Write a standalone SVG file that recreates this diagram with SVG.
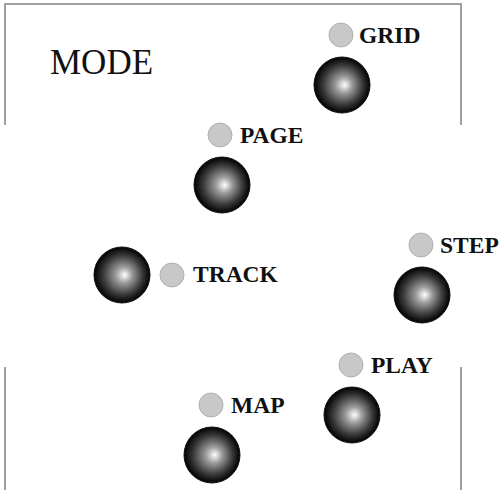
<svg xmlns="http://www.w3.org/2000/svg" width="500" height="490" viewBox="0 0 500 490">
<defs>
<radialGradient id="ball" cx="50%" cy="50%" r="50%" fx="55%" fy="50%">
<stop offset="0" stop-color="#ffffff"/>
<stop offset="0.3" stop-color="#999999"/>
<stop offset="0.7" stop-color="#3a3a3a"/>
<stop offset="1" stop-color="#000000"/>
</radialGradient>
<style>
.frame{fill:none;stroke:#a0a0a0;stroke-width:2}
.ball{fill:url(#ball);stroke:#111;stroke-width:1}
.dot{fill:#c8c8c8;stroke:#b0b0b0;stroke-width:1}
.lbl{font-family:"Liberation Serif","Times New Roman",serif;font-weight:bold;font-size:23.5px;fill:#111}
.title{font-family:"Liberation Serif","Times New Roman",serif;font-size:35px;fill:#111}
</style>
</defs>
<g id="frame">
<path class="frame" d="M5,125 V4 H461 V125"/>
<path class="frame" d="M5,367 V490"/>
<path class="frame" d="M461,367 V490"/>
<text class="title" x="50" y="74">MODE</text>
</g>
<g id="connectors"></g>
<g id="grid">
<circle class="dot" cx="341" cy="35" r="12"/>
<text class="lbl" x="359" y="43">GRID</text>
<circle class="ball" cx="342" cy="85" r="28"/>
</g>
<g id="page">
<circle class="dot" cx="220" cy="135" r="12"/>
<text class="lbl" x="240" y="143">PAGE</text>
<circle class="ball" cx="222" cy="185" r="28"/>
</g>
<g id="track">
<circle class="ball" cx="122" cy="275" r="28"/>
<circle class="dot" cx="172" cy="275" r="12"/>
<text class="lbl" x="193" y="282">TRACK</text>
</g>
<g id="step">
<circle class="dot" cx="421" cy="245" r="12"/>
<text class="lbl" x="440" y="253">STEP</text>
<circle class="ball" cx="422" cy="295" r="28"/>
</g>
<g id="play">
<circle class="dot" cx="351" cy="365" r="12"/>
<text class="lbl" x="371" y="373">PLAY</text>
<circle class="ball" cx="352" cy="415" r="28"/>
</g>
<g id="map">
<circle class="dot" cx="211" cy="405" r="12"/>
<text class="lbl" x="231" y="413">MAP</text>
<circle class="ball" cx="212" cy="455" r="28"/>
</g>
</svg>
